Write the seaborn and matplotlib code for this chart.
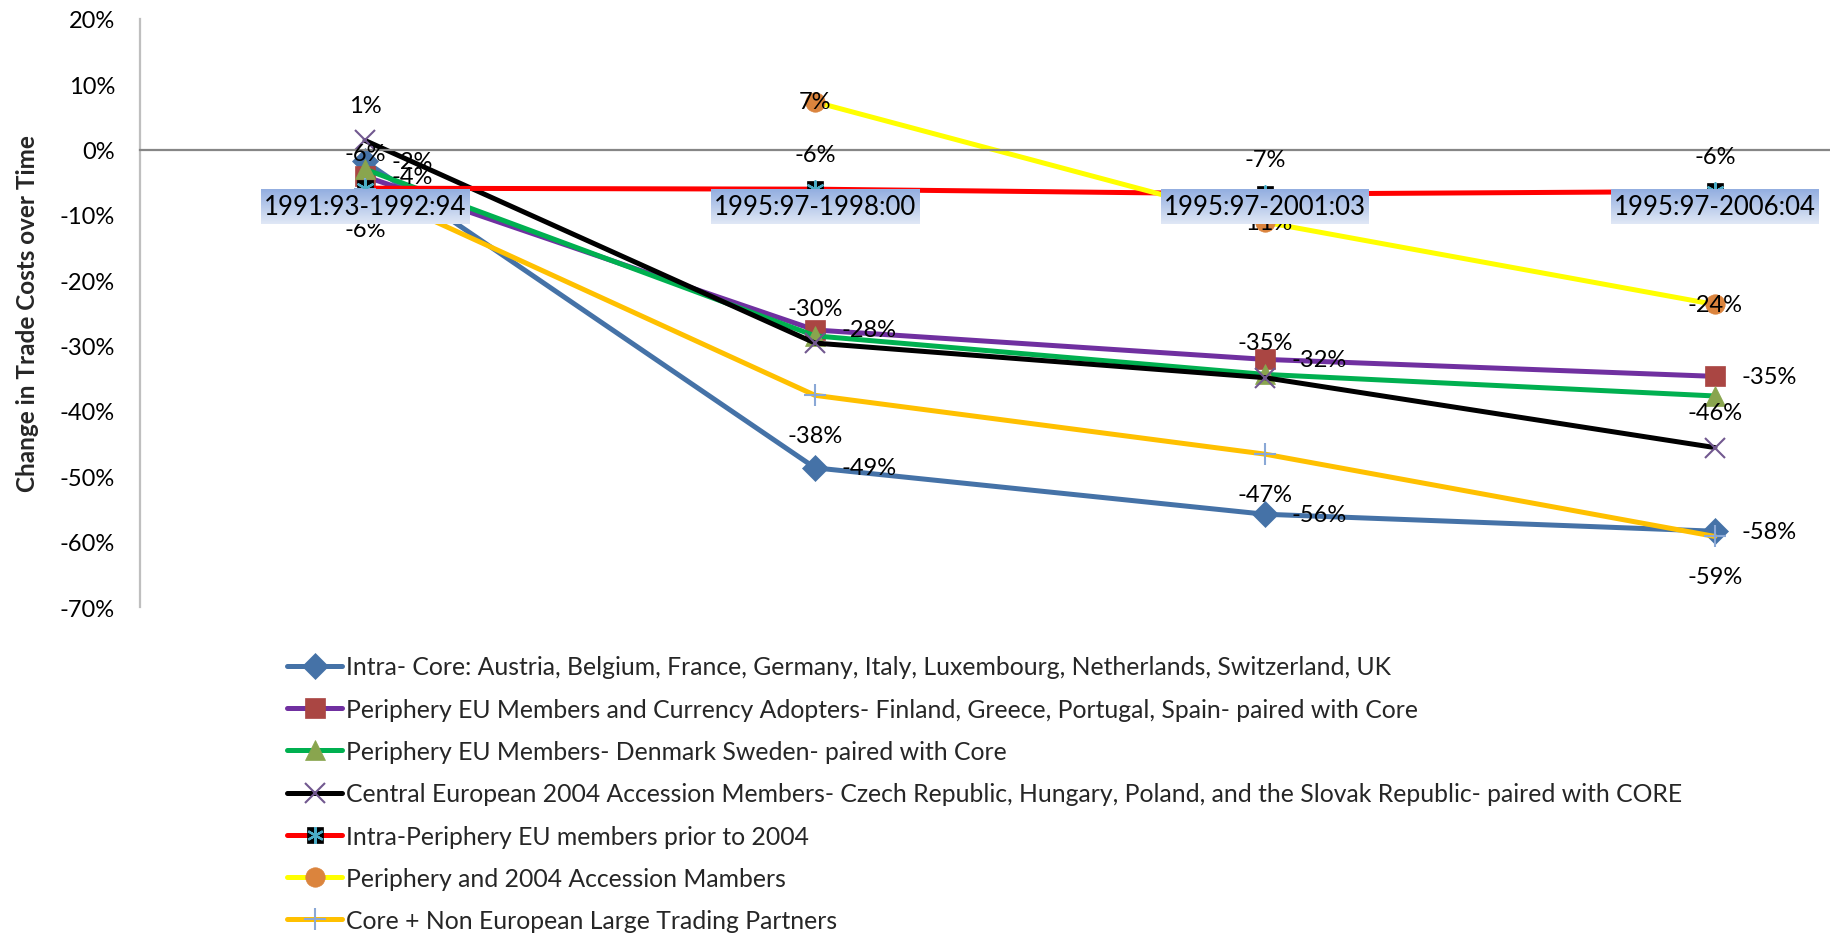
import numpy as np
import pandas as pd
import matplotlib
matplotlib.use("Agg")
import matplotlib.pyplot as plt
from matplotlib.lines import Line2D
from matplotlib.colors import LinearSegmentedColormap
import seaborn as sns

sns.set_theme(style="white")
plt.rcParams['font.family'] = ['Lato', 'DejaVu Sans']

# periods on the x axis
periods = ["1991:93-1992:94", "1995:97-1998:00", "1995:97-2001:03", "1995:97-2006:04"]

# series names (legend order)
names = [
    "Intra- Core: Austria, Belgium, France, Germany, Italy, Luxembourg, Netherlands, Switzerland, UK",
    "Periphery EU Members and Currency Adopters- Finland, Greece, Portugal, Spain- paired with Core",
    "Periphery EU Members- Denmark Sweden- paired with Core",
    "Central European 2004 Accession Members- Czech Republic, Hungary, Poland, and the Slovak Republic- paired with CORE",
    "Intra-Periphery EU members prior to 2004",
    "Periphery and 2004 Accession Mambers",
    "Core + Non European Large Trading Partners",
]

# change in trade costs
intra_core = [-0.018, -0.487, -0.558, -0.584]
periph_currency = [-0.041, -0.276, -0.321, -0.347]
periph_dk_se = [-0.030, -0.285, -0.344, -0.377]
central_2004 = [0.014, -0.296, -0.349, -0.456]
intra_periph = [-0.059, -0.0605, -0.068, -0.064]
periph_2004 = [np.nan, 0.073, -0.111, -0.237]
core_non_eu = [-0.061, -0.376, -0.466, -0.592]

values = [intra_core, periph_currency, periph_dk_se, central_2004,
          intra_periph, periph_2004, core_non_eu]

yticks = [-70, -60, -50, -40, -30, -20, -10, 0, 10, 20]

# styling per series
line_cols = ["#4572a7", "#7030a0", "#00b050", "#000000", "#ff0000", "#ffff00", "#ffc000"]
mark_cols = ["#4572a7", "#aa4643", "#89a54e", "#71588f", "#000000", "#db843d", "#8aa8d6"]
marks = ["D", "s", "^", "x", "s", "o", "+"]
mark_sizes = [13, 14, 14, 14, 12, 14, 16]
label_pos = ["right", "right", None, "above", "above", "center", "below"]

FS = 17

df = pd.DataFrame({
    "series": np.repeat(names, len(periods)),
    "pos": np.tile(np.arange(len(periods)), len(names)),
    "value": np.concatenate(values),
}).dropna()

fig = plt.figure(figsize=(18.31, 9.37), dpi=100)
ax = fig.add_axes([0.0765, 0.3511, 0.9235, 0.6276])

offsets = {"right": ((19, 0), "left"),
           "above": ((0, 25), "center"),
           "below": ((0, -29), "center"),
           "center": ((0, 0), "center")}

handles = []
for i, name in enumerate(names):
    sub = df[df["series"] == name]
    filled = marks[i] not in ("x", "+")
    mew = 0.5 if filled else 1.5
    sns.lineplot(data=sub, x="pos", y="value", ax=ax, color=line_cols[i],
                 linewidth=3.6, errorbar=None, marker=marks[i],
                 markersize=mark_sizes[i],
                 markerfacecolor=mark_cols[i],
                 markeredgecolor=mark_cols[i],
                 markeredgewidth=mew)
    h = Line2D([], [], color=line_cols[i], linewidth=3.6, marker=marks[i],
               markersize=mark_sizes[i], markerfacecolor=mark_cols[i],
               markeredgecolor=mark_cols[i], markeredgewidth=mew)
    if i == 4:
        # star-on-square marker like the Excel original
        sns.scatterplot(data=sub, x="pos", y="value", ax=ax, marker=(6, 2, 0),
                        color="#4bacc6", s=140, linewidth=1.6, zorder=3)
        star = Line2D([], [], linestyle="none", marker=(6, 2, 0),
                      markersize=12, markeredgecolor="#4bacc6", markeredgewidth=1.6)
        h = (h, star)
    handles.append(h)

    pos = label_pos[i]
    if pos is None:
        continue
    (dx, dy), ha = offsets[pos]
    for x, v in zip(sub["pos"], sub["value"]):
        ax.annotate(f"{v:.0%}", (x, v), xytext=(dx, dy), textcoords="offset points",
                    ha=ha, va="center", fontsize=FS, color="black", zorder=4)

ax.set_xlim(-0.5, 3.258)
ax.set_ylim(-0.7, 0.2)
ax.set_yticks([t / 100 for t in yticks])
ax.set_yticklabels([f"{t}%" for t in yticks])
ax.set_xticks(range(len(periods)))
ax.set_xticklabels(periods)
ax.tick_params(axis="y", length=0, pad=18, labelsize=FS, labelcolor="black")
ax.tick_params(axis="x", length=0, pad=32, labelsize=18.5, labelcolor="black")

for s in ["top", "right"]:
    ax.spines[s].set_visible(False)
ax.spines["bottom"].set_position(("data", 0))
ax.spines["bottom"].set_color("#868686")
ax.spines["bottom"].set_linewidth(1.6)
ax.spines["left"].set_color("#bfbfbf")
ax.spines["left"].set_linewidth(1.6)
ax.xaxis.set_zorder(10)

ax.set_xlabel("")
ax.set_ylabel("Change in Trade Costs over Time", fontsize=17.5, fontweight="bold")
ax.yaxis.set_label_coords(-0.060, 0.5)

fig.legend(handles, names, loc="upper left", bbox_to_anchor=(0.1516, 0.31),
           frameon=False, fontsize=17.8, handlelength=2.2, handletextpad=0.15,
           labelspacing=0.78, borderaxespad=0)

# gradient boxes behind the period labels
fig.canvas.draw()
grad_cmap = LinearSegmentedColormap.from_list("box", ["#93aee0", "#e0e8f6"])
inv = ax.transData.inverted()
for lab in ax.get_xticklabels():
    bb = lab.get_window_extent()
    (x0, y0), (x1, y1) = inv.transform([(bb.x0 - 3, bb.y0 - 5), (bb.x1 + 3, bb.y1 + 5)])
    ax.imshow(np.linspace(0, 1, 64).reshape(-1, 1), extent=(x0, x1, y0, y1),
              cmap=grad_cmap, aspect="auto", origin="upper", zorder=9)
ax.set_xlim(-0.5, 3.258)
ax.set_ylim(-0.7, 0.2)

fig.savefig("out.png", dpi=100)
